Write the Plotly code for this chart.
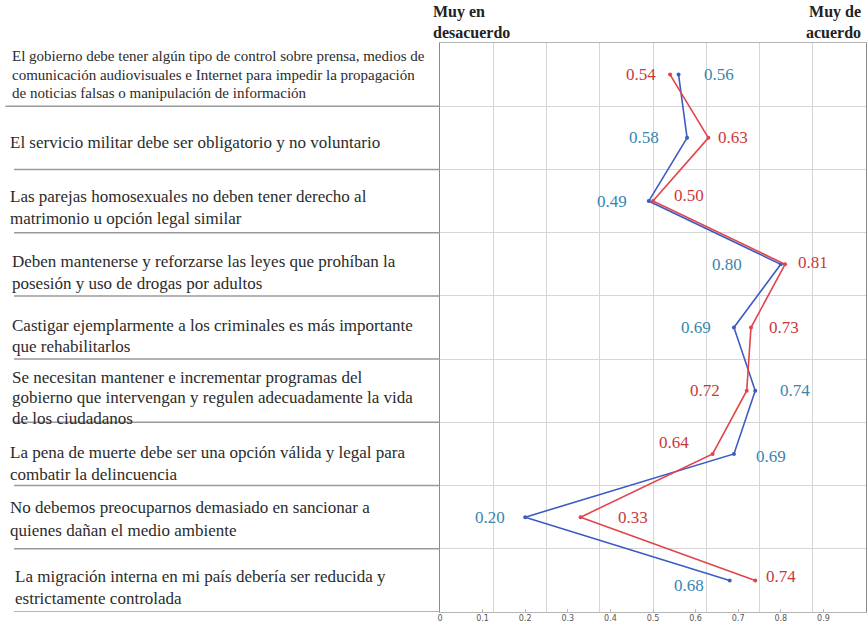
import plotly.graph_objects as go

# ---------------- data ----------------
statements = [
    "El gobierno debe tener algún tipo de control sobre prensa, medios de<br>comunicación audiovisuales e Internet para impedir la propagación<br>de noticias falsas o manipulación de información",
    "El servicio militar debe ser obligatorio y no voluntario",
    "Las parejas homosexuales no deben tener derecho al<br>matrimonio u opción legal similar",
    "Deben mantenerse y reforzarse las leyes que prohíban la<br>posesión y uso de drogas por adultos",
    "Castigar ejemplarmente a los criminales es más importante<br>que rehabilitarlos",
    "Se necesitan mantener e incrementar programas del<br>gobierno que intervengan y regulen adecuadamente la vida<br>de los ciudadanos",
    "La pena de muerte debe ser una opción válida y legal para<br>combatir la delincuencia",
    "No debemos preocuparnos demasiado en sancionar a<br>quienes dañan el medio ambiente",
    "La migración interna en mi país debería ser reducida y<br>estrictamente controlada",
]
blue_values = [0.56, 0.58, 0.49, 0.80, 0.69, 0.74, 0.69, 0.20, 0.68]
red_values = [0.54, 0.63, 0.50, 0.81, 0.73, 0.72, 0.64, 0.33, 0.74]
tick_values = [0, 0.1, 0.2, 0.3, 0.4, 0.5, 0.6, 0.7, 0.8, 0.9, 1]
tick_labels = ["0", "0.1", "0.2", "0.3", "0.4", "0.5", "0.6", "0.7", "0.8", "0.9", "1"]
header_left = "Muy en<br>desacuerdo"
header_right = "Muy de<br>acuerdo"

# ---------------- styling / label placement ----------------
BLUE_LINE = "#3c5cc4"
RED_LINE = "#e0454b"
BLUE_TXT = "#3886ad"
RED_TXT = "#c9383c"
SERIF = "Liberation Serif"

# signed pixel shift of each value label from its point (neg = left of point)
blue_xshift = [23, -26, -20, -37, -21, 23, 20, -18, -24]
blue_yshift = [0, 0, 0, 0, 0, 0, -3, 0, -5]
red_xshift = [-12, 8, 19, 11, 16, -25, -22, 35, 9]
red_yshift = [0, 0, 6, 2, 0, 0, 11, 0, 4]
label_yshift = [0, -5, -6, -8, -8, -7, -10, -2, -7]
label_size = [15, 17, 17, 17, 17, 17, 17, 17, 17]
label_gap = [18.5, 22, 22, 22.5, 21, 20.5, 22, 22.5, 22.5]
label_x = [-1.01, -1.015, -1.015, -1.01, -1.01, -1.01, -1.015, -1.015, -1.003]

n = len(statements)
rows = list(range(n))

fig = go.Figure()
fig.add_trace(go.Scatter(
    x=blue_values, y=rows, mode="lines+markers", xaxis="x", yaxis="y",
    line=dict(color=BLUE_LINE, width=1.6), marker=dict(color=BLUE_LINE, size=4),
    hoverinfo="skip", showlegend=False))
fig.add_trace(go.Scatter(
    x=red_values, y=rows, mode="lines+markers", xaxis="x2", yaxis="y",
    line=dict(color=RED_LINE, width=1.6), marker=dict(color=RED_LINE, size=4),
    hoverinfo="skip", showlegend=False))

annotations = []
for i in rows:
    for vals, xs, ys, col in ((blue_values, blue_xshift, blue_yshift, BLUE_TXT),
                              (red_values, red_xshift, red_yshift, RED_TXT)):
        annotations.append(dict(
            x=vals[i], y=i, xref="x", yref="y", text=f"{vals[i]:.2f}",
            showarrow=False, xanchor="left" if xs[i] > 0 else "right",
            xshift=xs[i], yshift=ys[i],
            font=dict(family=SERIF, size=17, color=col)))
    # statement text, one annotation per line for the wider line spacing
    lines = statements[i].split("<br>")
    m = len(lines)
    for k, ln in enumerate(lines):
        off = ((m - 1) / 2 - k) * label_gap[i]
        annotations.append(dict(
            x=label_x[i], y=i, xref="paper", yref="y", text=ln, showarrow=False,
            xanchor="left", yanchor="middle", yshift=off + label_yshift[i],
            font=dict(family=SERIF, size=label_size[i], color="#2b2b2b")))

annotations.append(dict(x=-0.02, y=1.0, xref="paper", yref="paper", yshift=42,
                        text=f"<b>{header_left}</b>", showarrow=False,
                        xanchor="left", yanchor="top", align="left",
                        font=dict(family=SERIF, size=16, color="#222")))
annotations.append(dict(x=0.993, y=1.0, xref="paper", yref="paper", yshift=42,
                        text=f"<b>{header_right}</b>", showarrow=False,
                        xanchor="right", yanchor="top", align="right",
                        font=dict(family=SERIF, size=16, color="#222")))

# separators on the left side (continuing the row grid lines)
shapes = []
for i in rows:
    shapes.append(dict(type="line", xref="paper", yref="y",
                       x0=-1.02 if i == 0 else -1.0, x1=0, y0=i + 0.5, y1=i + 0.5,
                       line=dict(color="#9a9a9a", width=1.5)))

fig.update_layout(
    width=868, height=629,
    margin=dict(l=440, r=2, t=43, b=17),
    paper_bgcolor="white", plot_bgcolor="white",
    xaxis=dict(range=[0, 1], tick0=0, dtick=0.125, showgrid=True,
               gridcolor="#d6d6d6", gridwidth=1, showticklabels=False, ticks="",
               zeroline=False, showline=True, linecolor="#b5b5b5", mirror=True,
               fixedrange=True),
    xaxis2=dict(range=[0, 1], overlaying="x", anchor="y", side="bottom",
                tickmode="array", tickvals=tick_values, ticktext=tick_labels,
                showgrid=False, zeroline=False, ticks="inside", ticklen=3,
                tickcolor="#bbbbbb", showline=False,
                tickfont=dict(family="DejaVu Sans", size=8, color="#555")),
    yaxis=dict(range=[n - 0.5, -0.5], tickmode="array",
               tickvals=[i + 0.5 for i in rows[:-1]], showticklabels=False,
               showgrid=True, gridcolor="#d6d6d6", gridwidth=1, zeroline=False,
               showline=True, linecolor="#8a8a8a", mirror=True, ticks="",
               fixedrange=True),
    annotations=annotations, shapes=shapes,
)

fig.write_html("out.html", config={"displayModeBar": False},
               post_script="document.body.style.margin='0';")
